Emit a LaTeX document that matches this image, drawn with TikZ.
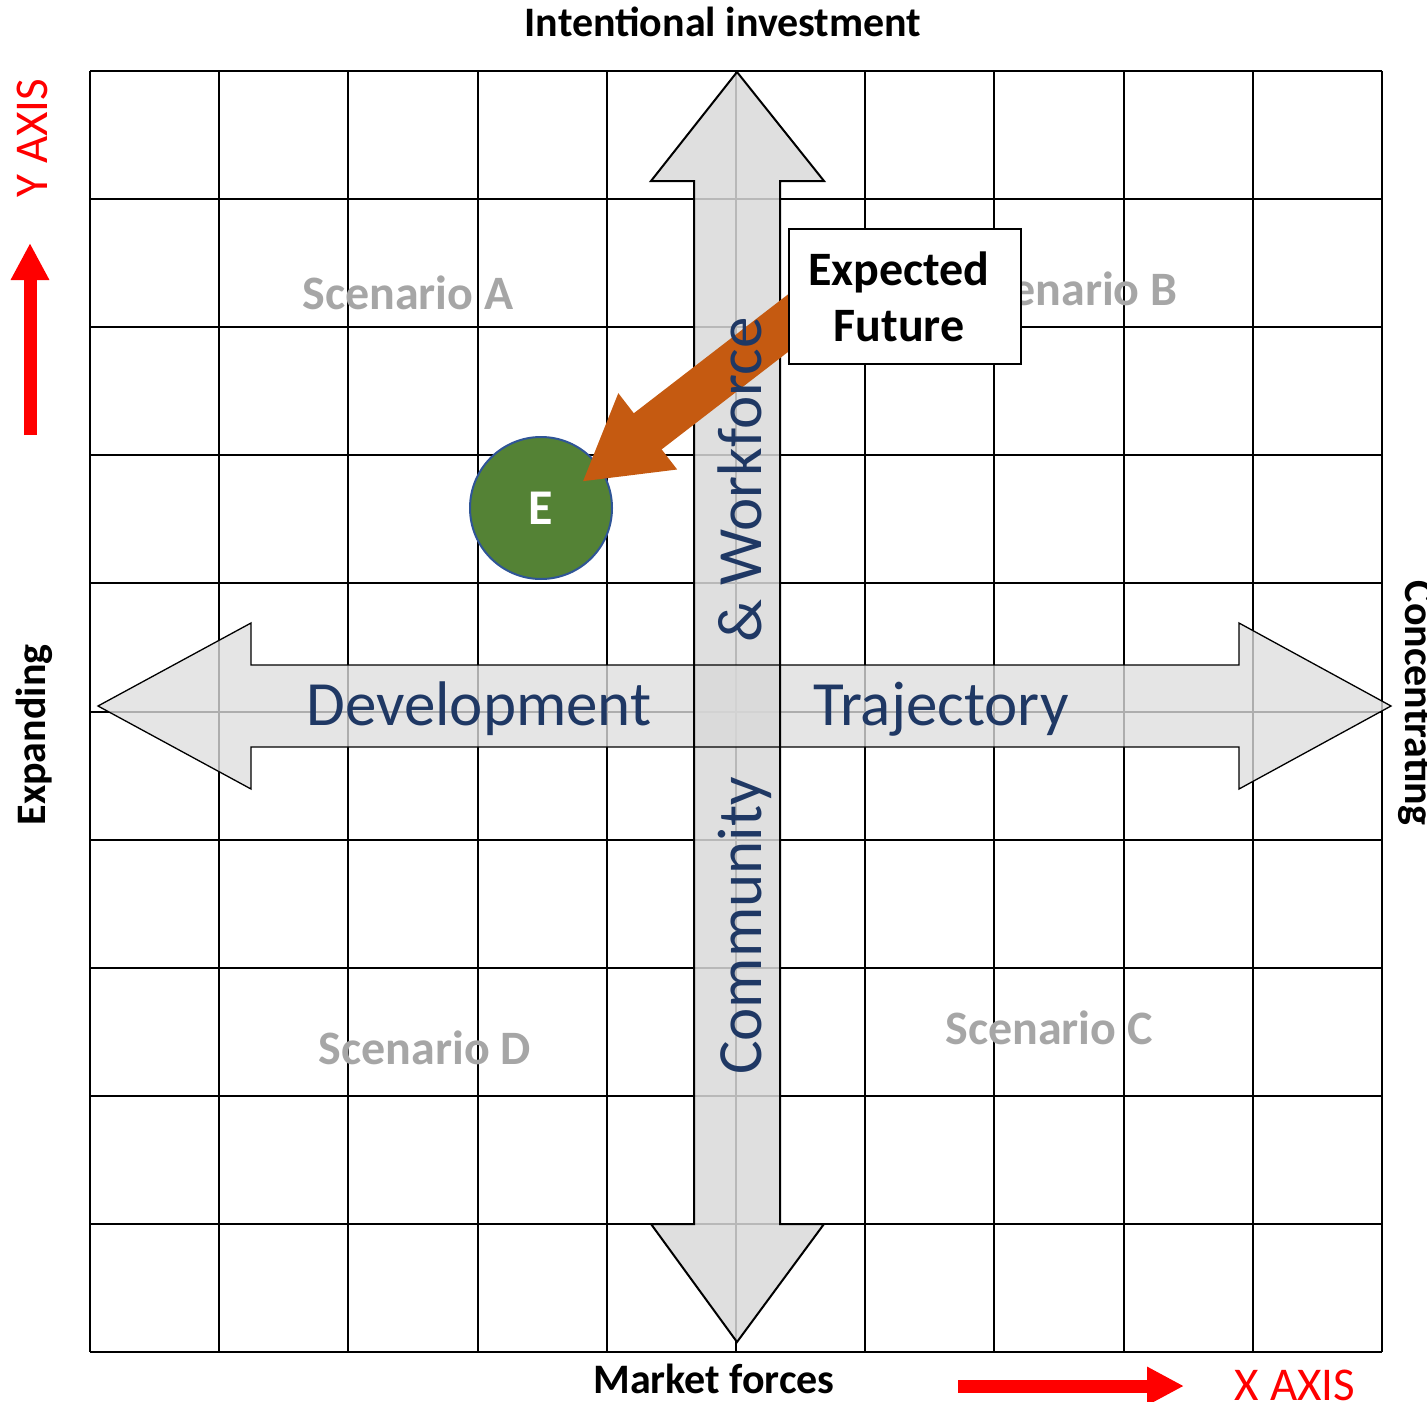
\documentclass[tikz,border=0pt]{standalone}
\usepackage{fontspec}
\setmainfont{Carlito}
\usetikzlibrary{arrows.meta,calc}
\pgfdeclarelayer{front}
\pgfsetlayers{main,front}
\definecolor{txtblue}{HTML}{1F3864}
\definecolor{scgray}{HTML}{A6A6A6}
\definecolor{egreen}{HTML}{548235}
\definecolor{eblue}{HTML}{2F5597}
\definecolor{eorange}{HTML}{C55A11}
\definecolor{axred}{HTML}{FF0000}
\tikzset{
  gridline/.style={line width=2pt, black},
  axislabel/.style={inner sep=0pt, anchor=base, font=\fontsize{42}{50}\selectfont\bfseries},
  redlabel/.style={inner sep=0pt, anchor=base, text=axred, font=\fontsize{47}{56}\selectfont},
  scenario/.style={inner sep=0pt, anchor=base, text=scgray, font=\fontsize{48}{58}\selectfont\bfseries},
  bigword/.style={inner sep=0pt, anchor=base, text=txtblue, font=\fontsize{63}{75}\selectfont},
  redarrow/.style={axred, line width=13pt, -{Triangle[length=37pt,width=36pt]}},
  vfill/.style={fill=black!15, fill opacity=0.85},
  hfill/.style={fill=black!13, fill opacity=0.78},
}
\begin{document}
\begin{tikzpicture}[x=1pt,y=-1pt]
\useasboundingbox (0,0) rectangle (1427,1402);
% grid
\foreach \i in {0,...,10}{
  \draw[gridline] (90+129.2*\i,71) -- (90+129.2*\i,1352);
  \draw[gridline] (90,71+128.1*\i) -- (1382,71+128.1*\i);
}
% big gray arrows
\def\harrow{(98,706) -- (251,623) -- (251,665) -- (1239,665) -- (1239,623) -- (1391,706) -- (1239,789) -- (1239,747) -- (251,747) -- (251,789) -- cycle}
\def\varrow{(737,72) -- (824,181) -- (780,181) -- (780,1224) -- (824,1224) -- (737,1342) -- (651,1224) -- (694,1224) -- (694,181) -- (651,181) -- cycle}
\fill[hfill] \harrow;
\fill[vfill] \varrow;
\draw[line width=1.3pt, line join=miter] \harrow;
\draw[line width=2pt, line join=miter] \varrow;
% scenarios
\node[scenario] (sa) at (408,309) {Scenario A};
\node[scenario] (sb) at (1073,305) {Scenario B};
\node[scenario] (sc) at (1049,1044) {Scenario C};
\node[scenario] (sd) at (425,1064) {Scenario D};
% axis labels
\node[axislabel] (top) at (723,37) {Intentional investment};
\node[axislabel] (bot) at (714,1393) {Market forces};
\node[axislabel, rotate=90] (lft) at (45,735) {Expanding};
\node[axislabel, rotate=-90] (rgt) at (1405,703) {Concentrating};
\node[redlabel, rotate=90] (yax) at (47,138) {Y AXIS};
\node[redlabel] (xax) at (1295,1400) {X AXIS};
\coordinate (ya0) at (30,435);
\coordinate (ya1) at (30,243);
\coordinate (xa0) at (958,1386);
\coordinate (xa1) at (1184,1386);
\draw[redarrow] (ya0) -- (ya1);
\draw[redarrow] (xa0) -- (xa1);
% circle E
\node[circle, minimum size=142pt, inner sep=0pt, fill=egreen, draw=eblue, line width=2pt,
      text=white, font=\fontsize{50}{60}\selectfont\bfseries] (E) at (541,508) {E};
% expected future box
\begin{pgfonlayer}{front}
\node[draw, fill=white, line width=1.5pt, minimum width=232pt, minimum height=135pt,
      inner sep=0pt, align=center, font=\fontsize{48}{56}\selectfont\bfseries] (fut) at (905,296.5)
      {Expected\rule{12pt}{0pt}\\Future\rule{12pt}{0pt}};
\end{pgfonlayer}
\coordinate (tipE) at (582,482);
\coordinate (futin) at ([yshift=-26.5pt]fut.west);
\draw[eorange, line width=45.6pt, -{Triangle[length=83pt,width=90pt]}] ($(tipE)!1.25!(futin)$) -- (tipE);
% words on the arrows
\node[bigword] (dev) at (479,725) {Development};
\node[bigword] (traj) at (941,725) {Trajectory};
\node[bigword, rotate=90] (work) at (761,480) {\&~Workforce};
\node[bigword, rotate=90] (comm) at (761,926) {Community};
\end{tikzpicture}
\end{document}
